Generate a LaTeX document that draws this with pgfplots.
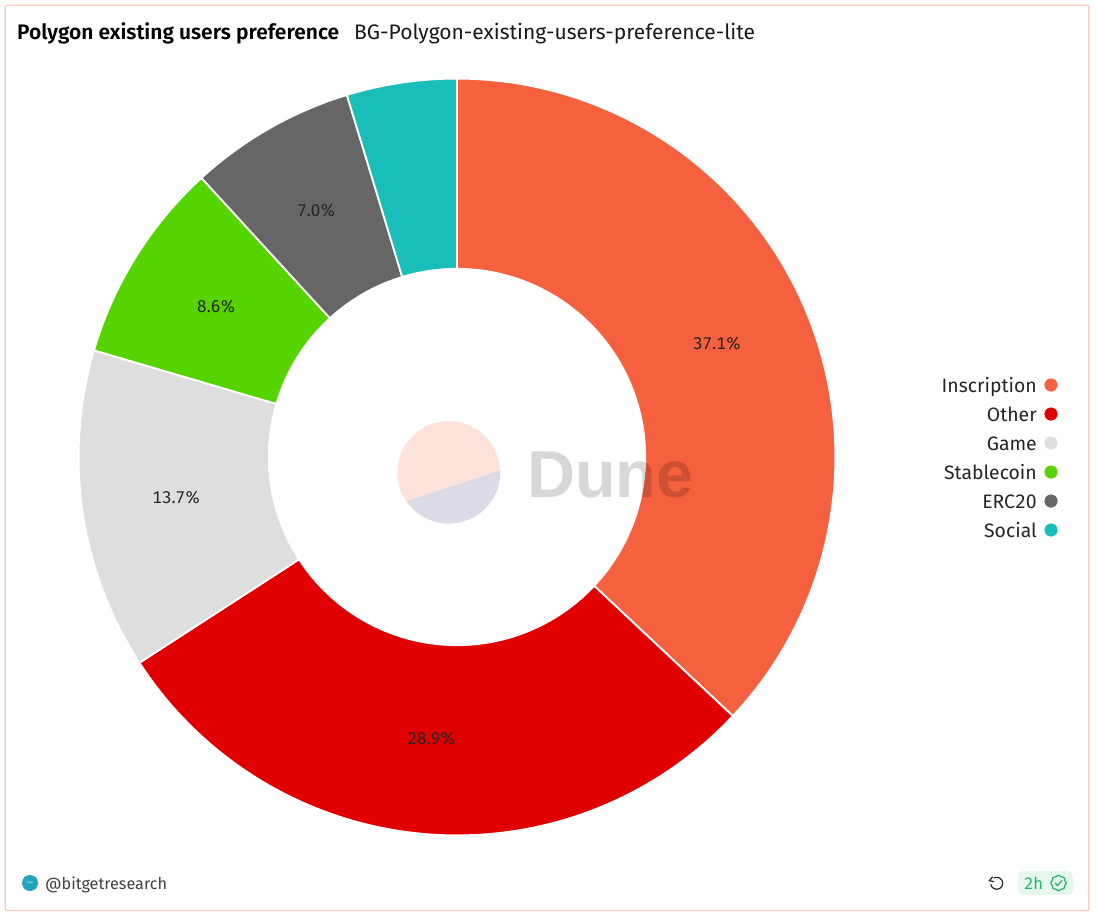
\documentclass[border=0pt]{standalone}
\usepackage{pgfplots}
\pgfplotsset{compat=1.18}
\usepackage{fontspec}
\setmainfont[Numbers=Tabular]{Fira Sans}
\newfontfamily\dunefont{Liberation Sans}
\newfontfamily\semib{Fira Sans SemiBold}
\usetikzlibrary{shapes.geometric,arrows.meta}
\definecolor{cIns}{HTML}{F5613F}
\definecolor{cOth}{HTML}{E00000}
\definecolor{cGam}{HTML}{DEDEDE}
\definecolor{cSta}{HTML}{55D400}
\definecolor{cErc}{HTML}{666666}
\definecolor{cSoc}{HTML}{1ABEB8}
\definecolor{frame}{HTML}{FFC8C0}
\definecolor{wmA}{HTML}{FFE3DB}
\definecolor{wmB}{HTML}{DCDAE6}
\definecolor{okg}{HTML}{1DB56A}
\definecolor{okb}{HTML}{E6F7EE}
% #1 start share (%), #2 share (%), #3 colour
\newcommand\ring[3]{%
  \addplot[fill=#3,draw=white,line width=1.8pt,line join=miter,domain=0:1,samples=161,
    no markers]
   ({457+(x<=0.5?378.4:188.2)*sin(3.6*(x<=0.5?(#1+#2*x/0.5):(#1+#2-#2*(x-0.50625)/0.49375)))},
    {457-(x<=0.5?378.4:188.2)*cos(3.6*(x<=0.5?(#1+#2*x/0.5):(#1+#2-#2*(x-0.50625)/0.49375)))}) -- cycle;
}
\newcommand\lab[3]{\node[font=\fontsize{17}{17}\selectfont,text=black!85,anchor=center]
   at (axis cs:{457+283.5*sin(3.6*(#1+#2/2))},{456.5-283.5*cos(3.6*(#1+#2/2))}) {#3};}
\newcommand\leg[3]{%
  \addplot[only marks,color=#3,mark=*,mark size=6.3pt,mark options={solid,fill=#3}] coordinates {(1051,#1)};
  \node[font=\fontsize{19.4}{19.4}\selectfont,text=black!85,anchor=base east,inner sep=0pt] at (axis cs:1037,{#1+7.2}) {#2};}
\begin{document}
\begin{tikzpicture}
\begin{axis}[scale only axis,width=1096pt,height=918pt,xmin=0,xmax=1096,ymin=0,ymax=918,
  y dir=reverse,hide axis,clip=false]
\path[fill=white,draw=none] (axis cs:0,0) rectangle (axis cs:1096,918);
\draw[frame,line width=1.2pt,rounded corners=1pt] (axis cs:5.3,5.3) rectangle (axis cs:1088.7,910.5);
\ring{0}{37.0}{cIns}
\ring{37.0}{28.85}{cOth}
\ring{65.85}{13.7}{cGam}
\ring{79.55}{8.65}{cSta}
\ring{88.2}{7.1}{cErc}
\ring{95.3}{4.7}{cSoc}
\lab{0}{37.0}{37.1\%}
\lab{37.0}{28.85}{28.9\%}
\lab{65.85}{13.7}{13.7\%}
\lab{79.55}{8.65}{8.6\%}
\lab{88.2}{7.1}{7.0\%}
% watermark
\fill[wmA] (axis cs:448.7,472.3) circle[radius=51.3pt];
\fill[wmB] (axis cs:406.7,501) arc[start angle=214.3,end angle=362,radius=51.3pt] -- cycle;
\node[font=\dunefont\bfseries\fontsize{66.5}{66.5}\selectfont,text=black,text opacity=0.155,anchor=base west,inner sep=0pt]
  at (axis cs:527,497) {Dune};
% title
\node[font=\fontsize{21}{21}\selectfont\semib,text=black,anchor=base west,inner sep=0pt] at (axis cs:17,39.5) {Polygon existing users preference};
\node[font=\fontsize{21}{21}\selectfont,text=black!90,anchor=base west,inner sep=0pt] at (axis cs:354,39.5) {BG-Polygon-existing-users-preference-lite};
% legend
\leg{385}{Inscription}{cIns}
\leg{414}{Other}{cOth}
\leg{443}{Game}{cGam}
\leg{472}{Stablecoin}{cSta}
\leg{501}{ERC20}{cErc}
\leg{530}{Social}{cSoc}
% footer
\fill[fill={rgb,255:red,33;green,165;blue,188}] (axis cs:30,883) circle[radius=8pt];
\node[font=\fontsize{2.5}{2.5}\selectfont,text=white,inner sep=0pt] at (axis cs:30,882.5) {bitget};
\node[font=\fontsize{16.2}{16.2}\selectfont,text=black!75,anchor=base west,inner sep=0pt] at (axis cs:45,889) {@bitgetresearch};
\draw[black!85,line width=1.2pt] (axis cs:993.7,878.1) arc[start angle=120,end angle=-170,radius=6pt];
\draw[black!85,line width=1.2pt] (axis cs:992.7,876.7) -- (axis cs:989.3,880.7) -- (axis cs:994,881.7);
\fill[okb] (axis cs:1018,871) [rounded corners=5pt] rectangle (axis cs:1073,895);
\node[font=\fontsize{16.5}{16.5}\selectfont,text=okg,anchor=base west,inner sep=0pt] at (axis cs:1024,889) {2h};
\node[star,star points=8,star point ratio=1.2,draw=okg,line width=1.2pt,minimum size=16pt,inner sep=0pt,rounded corners=0.6pt] at (axis cs:1058.5,883) {};
\draw[okg,line width=1.2pt] (axis cs:1055,883) -- (axis cs:1057.5,885.5) -- (axis cs:1062,880.5);
\end{axis}
\end{tikzpicture}
\end{document}
